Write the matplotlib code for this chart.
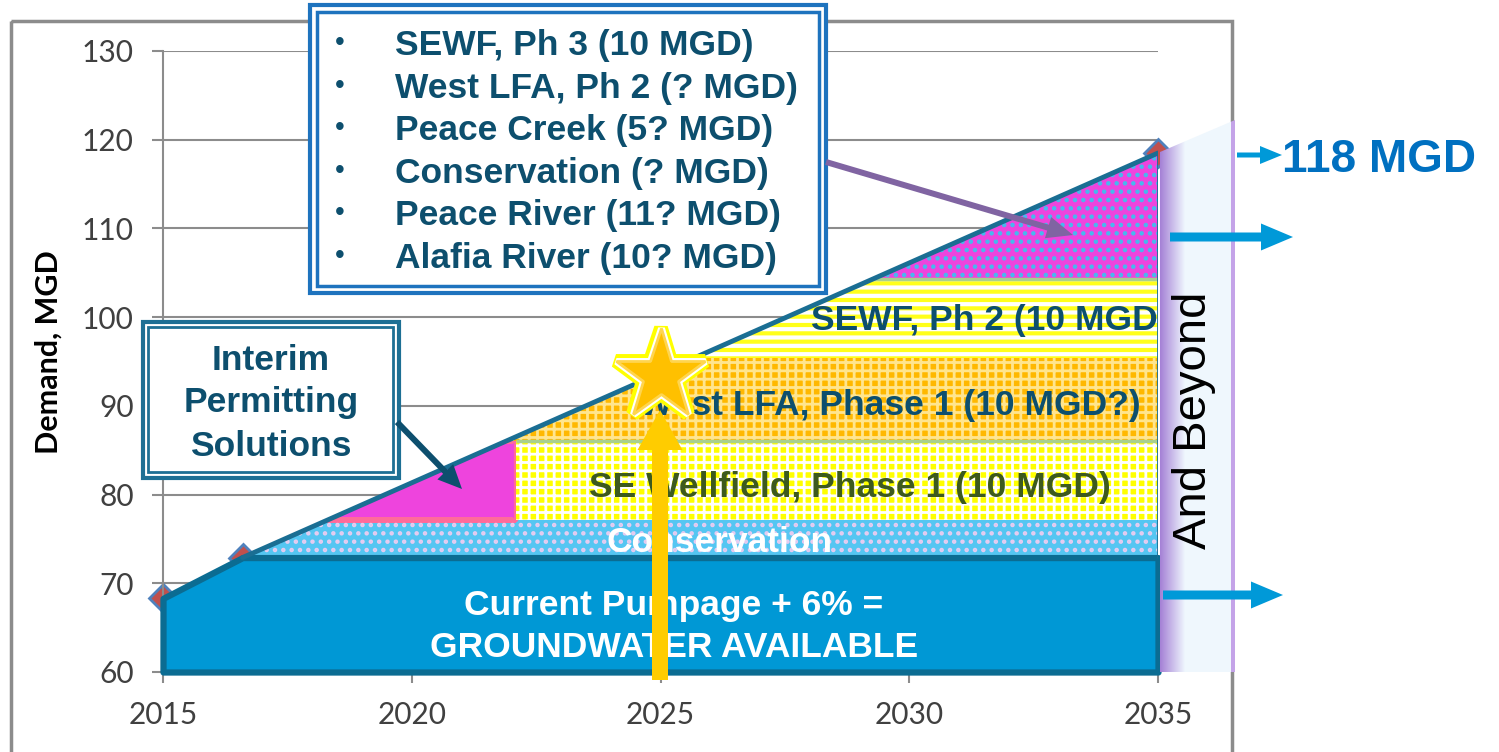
import matplotlib.pyplot as plt
import numpy as np
from matplotlib.patches import Rectangle, Polygon, FancyArrowPatch
from matplotlib.transforms import Affine2D
import matplotlib.patheffects as pe

plt.rcParams['font.family'] = ['Liberation Sans', 'DejaVu Sans']
plt.rcParams['hatch.linewidth'] = 2.0

# demand projection, MGD
demand_years = [2015, 2016.6, 2035]
demand = [68.3, 72.9, 118.5]

# supply layers stacked under the demand line
layer_x0 = [2015, 2015, 2015, 2022.1, 2015, 2015, 2015]
layer_x1 = [2035, 2035, 2022.1, 2035, 2035, 2035, 2035]
layer_lo = [60, 72.9, 77.1, 77.1, 86.0, 95.4, 104.3]
layer_hi = [72.9, 77.1, 86.0, 86.0, 95.4, 104.3, 118.5]
layer_fc = ['#0098D5', '#55C6F2', '#EE44DD', '#FFFF00', '#FFB800', '#FFFF1A', '#EE44DD']
layer_hatch = [None, '..', None, '++', '++', '--', '..']
layer_hc = [None, '#E6CCF0', None, 'white', '#FFE58F', 'white', '#44BBEE']

bullets = ['SEWF, Ph 3 (10 MGD)', 'West LFA, Ph 2 (? MGD)', 'Peace Creek (5? MGD)',
           'Conservation (? MGD)', 'Peace River (11? MGD)', 'Alafia River (10? MGD)']
star_year, star_value = 2025, 93.4

W, H = 1499, 752
fig = plt.figure(figsize=(W / 100, H / 100), dpi=100)
# pixel coords measured from top-left of the image
pix = Affine2D().scale(1 / W, -1 / H).translate(0, 1) + fig.transFigure

ax = fig.add_axes([163 / W, 80 / H, 995 / W, 621 / H])
ax.set_zorder(1)
ax.set_xlim(2015, 2035)
ax.set_ylim(60, 130)
ax.set_xticks(range(2015, 2036, 5))
ax.set_yticks(range(60, 131, 10))
ax.tick_params(direction='out', length=8, width=1.5, color='#8C8C8C',
               labelsize=21.5, labelcolor='#404040')
ax.tick_params(axis='y', pad=13)
ax.tick_params(axis='x', pad=13)
for lab in ax.get_xticklabels() + ax.get_yticklabels():
    lab.set_fontfamily('Lato')
for s in ['top', 'right']:
    ax.spines[s].set_visible(False)
for s in ['left', 'bottom']:
    ax.spines[s].set_color('#8C8C8C')
    ax.spines[s].set_linewidth(1.5)
ax.grid(axis='y', color='#8C8C8C', lw=1.5)
ax.set_axisbelow(True)

fig.text(49 / W, 1 - 352 / H, 'Demand, MGD', rotation=90, fontsize=22,
         fontweight='bold', family='Lato', ha='center', va='center')

# outer slide frame
ax.add_artist(Rectangle((11, 21), 1221, 800, transform=pix, fill=False,
                        ec='#8C8C8C', lw=2.5, clip_on=False, zorder=0.5))

# area under demand used as clip
area = ax.fill_between(demand_years, 60, demand, color='none', lw=0)
clip = area.get_paths()[0]

ax.plot(demand_years, demand, 'D', ms=14, mfc='#C0504D', mec='#4F81BD', mew=2,
        ls='none', zorder=1.5, clip_on=False)

for i in range(1, len(layer_lo)):
    ec = '#FF6B9A' if i == 2 else 'none'
    lw = 3 if i == 2 else 0
    base = ax.fill_between([layer_x0[i], layer_x1[i]], layer_lo[i], layer_hi[i],
                           facecolor=layer_fc[i], edgecolor=ec, lw=lw, zorder=2)
    base.set_clip_path(clip, ax.transData)
    if layer_hatch[i]:
        h = ax.fill_between([layer_x0[i], layer_x1[i]], layer_lo[i], layer_hi[i],
                            facecolor='none', edgecolor=layer_hc[i], lw=0,
                            hatch=layer_hatch[i], zorder=2.1)
        if layer_hatch[i] == '--' and hasattr(h, 'set_hatch_linewidth'):
            h.set_hatch_linewidth(3.0)
        h.set_clip_path(clip, ax.transData)

gl = ax.hlines([layer_lo[4], layer_lo[6]], [layer_x0[3], 2015], 2035,
               colors='#A9D08E', lw=2.5, zorder=2.5)
gl.set_clip_path(clip, ax.transData)

# current pumpage block
ax.fill_between(demand_years, 60, np.minimum(demand, layer_hi[0]), facecolor=layer_fc[0],
                edgecolor='#0B6C92', lw=4.5, clip_on=False, zorder=3)
ax.plot(demand_years[1:], demand[1:], color='#1A6E93', lw=3.5, zorder=4,
        solid_capstyle='round')
ax.vlines(2035, layer_hi[0], demand[-1], color='#1A6E93', lw=2, zorder=4)

dark = '#0D4F6E'
txt = dict(transform=pix, fontsize=25.5, fontweight='bold', zorder=4.5)
ax.text(674, 615, 'Current Pumpage + 6% =', color='white', ha='center', **txt)
ax.text(674, 657, 'GROUNDWATER AVAILABLE', color='white', ha='center', **txt)
ax.text(720, 552, 'Conservation', color='white', ha='center', **txt)
ax.text(850, 497, 'SE Wellfield, Phase 1 (10 MGD)', color='#3D5A1E', ha='center', **txt)
ax.text(890, 415, 'West LFA, Phase 1 (10 MGD?)', color=dark, ha='center', **txt)
ax.text(1158, 330, 'SEWF, Ph 2 (10 MGD', color=dark, ha='right', **txt)


def arrow(parent, p0, p1, tail, hw, hl, color, z):
    a = FancyArrowPatch(p0, p1, transform=pix,
                        arrowstyle=f'simple,head_length={hl * 0.72},head_width={hw * 0.72},'
                                   f'tail_width={tail * 0.72}',
                        mutation_scale=1, shrinkA=0, shrinkB=0, fc=color, ec='none',
                        lw=0, zorder=z, clip_on=False)
    parent.add_artist(a)


# gold arrow and star at 2025
arrow(ax, (660, 680), (660, 410), 16, 45, 40, '#FFCC00', 5)
ax.plot(star_year, star_value, marker='*', ms=68, mfc='#FFC000', mec='#FFD54F', mew=2,
        ls='none', clip_on=False, zorder=6,
        path_effects=[pe.Stroke(linewidth=10, foreground='#FFFF00'),
                      pe.Stroke(linewidth=5, foreground='white'), pe.Normal()])

# bullet box
ax.add_artist(Rectangle((310, 5), 516, 288, transform=pix, fc='white', ec='#1E73BE',
                        lw=3, clip_on=False, zorder=7))
ax.add_artist(Rectangle((317, 12), 502, 274, transform=pix, fill=False, ec='#1E73BE',
                        lw=2.5, clip_on=False, zorder=7))
for i, s in enumerate(bullets):
    yb = 55 + i * 42.6
    ax.text(340, yb - 12, '\u2022', transform=pix, fontsize=20, color=dark,
            ha='center', va='center', zorder=8)
    ax.text(395, yb, s, transform=pix, fontsize=25.5, fontweight='bold', color=dark,
            ha='left', zorder=8)

# interim box
ax.add_artist(Rectangle((143, 322), 256, 156, transform=pix, fc='white', ec='#1D6F94',
                        lw=3, clip_on=False, zorder=7))
ax.add_artist(Rectangle((148, 327), 245, 145, transform=pix, fill=False, ec='#1D6F94',
                        lw=2, clip_on=False, zorder=7))
for yb, s in zip([370, 412, 456], ['Interim', 'Permitting', 'Solutions']):
    ax.text(271, yb, s, transform=pix, fontsize=25.5, fontweight='bold', color=dark,
            ha='center', zorder=8)

arrow(ax, (826, 162), (1073, 235), 6, 22, 26, '#8064A2', 7)
arrow(ax, (397, 422), (462, 489), 6, 22, 24, dark, 7)

# "And Beyond" band
bax = fig.add_axes([1156 / W, 1 - 676 / H, 84 / W, 562 / H])
bax.set_zorder(2)
bax.set_xlim(1156, 1240)
bax.set_ylim(676, 114)
bax.axis('off')
purple = np.array([0.65, 0.51, 0.84])
light = np.array([0.94, 0.97, 0.995])
t = np.clip(np.linspace(0, 1, 75) * 3, 0, 1)[:, None]
row = purple * (1 - t) + light * t
row[-4:] = [0.77, 0.64, 0.91]
grad = np.repeat(row[None, :, :], 2, axis=0)
im = bax.imshow(grad, extent=(1160, 1235, 672, 118), aspect='auto', zorder=1)
band = Polygon([(1160, 152), (1235, 120), (1235, 672), (1160, 672)], closed=True,
               transform=bax.transData, fill=False, lw=0)
im.set_clip_path(band)
bax.text(1194, 420, 'And Beyond', rotation=90, fontsize=34, color='black',
         ha='center', va='center', transform=pix, zorder=3)

arrow(bax, (1237, 155), (1282, 155), 5, 18, 22, '#0099D8', 4)
arrow(bax, (1170, 237), (1293, 237), 9, 27, 32, '#0099D8', 4)
arrow(bax, (1163, 595), (1283, 595), 9, 27, 32, '#0099D8', 4)
bax.text(1282, 172, '118 MGD', transform=pix, fontsize=33, fontweight='bold',
         color='#0070C0', ha='left', zorder=4)

fig.savefig('out.png', dpi=100)
